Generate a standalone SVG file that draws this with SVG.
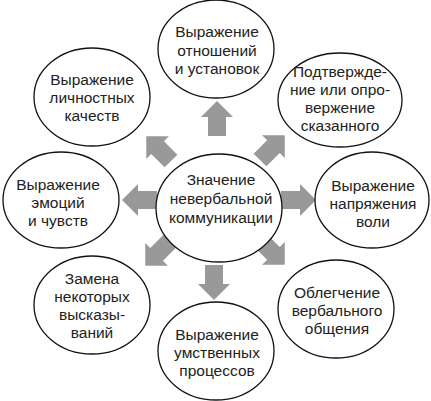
<svg xmlns="http://www.w3.org/2000/svg" width="431" height="401" viewBox="0 0 431 401">
<defs>
<style>
.n ellipse{fill:#fff;stroke:#111;stroke-width:1.3}
.n text{font-family:"Liberation Sans",Arial,sans-serif;font-size:15.5px;fill:#222;text-anchor:middle}
.a{fill:#999}
</style>
<polygon id="arr" points="0,-9 19,-9 19,-16 35,0 19,16 19,9 0,9"/>
</defs>
<rect width="431" height="401" fill="#fff"/>
<g id="connectors" class="a">
<use href="#arr" transform="translate(217,136) rotate(-90)"/>
<use href="#arr" transform="translate(214,265) rotate(90)"/>
<use href="#arr" transform="translate(157,200) rotate(180)"/>
<use href="#arr" transform="translate(281,200)"/>
<use href="#arr" transform="translate(171,161) rotate(-135)"/>
<use href="#arr" transform="translate(260,160) rotate(-45)"/>
<use href="#arr" transform="translate(170,241) rotate(135)"/>
<use href="#arr" transform="translate(260,240) rotate(45)"/>
</g>
<g id="center" class="n"><ellipse cx="219" cy="208" rx="63" ry="54"/>
<text x="221" y="185">Значение</text><text x="221" y="204">невербальной</text><text x="221" y="223">коммуникации</text></g>
<g id="top" class="n"><ellipse cx="216" cy="49" rx="58" ry="49"/>
<text x="217" y="37">Выражение</text><text x="217" y="55.5">отношений</text><text x="217" y="74">и установок</text></g>
<g id="topleft" class="n"><ellipse cx="92" cy="97" rx="58" ry="49"/>
<text x="92" y="85">Выражение</text><text x="92" y="103">личностных</text><text x="92" y="121">качеств</text></g>
<g id="topright" class="n"><ellipse cx="340" cy="100" rx="62" ry="47"/>
<text x="340" y="77">Подтвержде-</text><text x="340" y="95">ние или опро-</text><text x="340" y="113">вержение</text><text x="340" y="131">сказанного</text></g>
<g id="left" class="n"><ellipse cx="61" cy="200" rx="58" ry="48"/>
<text x="58" y="190">Выражение</text><text x="58" y="208">эмоций</text><text x="58" y="226">и чувств</text></g>
<g id="right" class="n"><ellipse cx="372" cy="200" rx="57" ry="48"/>
<text x="373" y="191">Выражение</text><text x="373" y="209">напряжения</text><text x="373" y="227">воли</text></g>
<g id="bottomleft" class="n"><ellipse cx="92" cy="305" rx="58" ry="49"/>
<text x="92" y="284">Замена</text><text x="92" y="302">некоторых</text><text x="92" y="320">высказы-</text><text x="92" y="338">ваний</text></g>
<g id="bottom" class="n"><ellipse cx="216" cy="351" rx="58" ry="49"/>
<text x="217" y="340">Выражение</text><text x="217" y="358">умственных</text><text x="217" y="376">процессов</text></g>
<g id="bottomright" class="n"><ellipse cx="336" cy="309" rx="58" ry="49"/>
<text x="337" y="298">Облегчение</text><text x="337" y="316">вербального</text><text x="337" y="334">общения</text></g>
</svg>
